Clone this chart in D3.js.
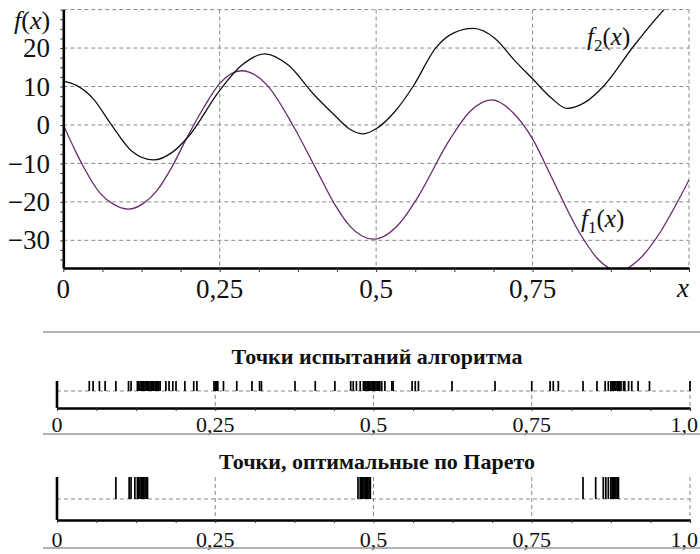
<!DOCTYPE html>
<html>
<head>
<meta charset="utf-8">
<script src="https://cdnjs.cloudflare.com/ajax/libs/d3/7.8.5/d3.min.js"></script>
<style>
  body { margin: 0; background: #fff; }
  svg { display: block; font-family: "Liberation Serif", "DejaVu Serif", serif; }
  svg text { fill: #111; }
</style>
</head>
<body>
<div id="chart"></div>
<script>
// f1(x) - purple curve
const f1X = [0, 0.02, 0.032, 0.059, 0.08, 0.104, 0.128, 0.149, 0.175, 0.197, 0.224, 0.25, 0.285, 0.325, 0.368, 0.405, 0.435, 0.458, 0.496, 0.538, 0.565, 0.618, 0.65, 0.685, 0.72, 0.75, 0.778, 0.826, 0.855, 0.888, 0.92, 0.954, 0.98, 1.0];
const f1Y = [0, -7.0, -10.8, -17.8, -20.6, -21.9, -20.4, -17.2, -10.5, -3.5, 4.4, 10.8, 14.1, 10.5, -0.4, -11.8, -21.0, -26.3, -29.7, -25.5, -19.2, -3.7, 3.5, 6.5, 3.0, -3.6, -12.8, -28.3, -35.0, -38.0, -35.0, -27.9, -20.5, -14.3];

// f2(x) - black curve
const f2X = [0, 0.021, 0.048, 0.075, 0.11, 0.144, 0.175, 0.2, 0.25, 0.285, 0.322, 0.36, 0.4, 0.432, 0.458, 0.48, 0.5, 0.53, 0.559, 0.595, 0.625, 0.655, 0.69, 0.72, 0.75, 0.78, 0.805, 0.835, 0.863, 0.911, 0.962, 1.0];
const f2Y = [11.4, 10.3, 6.8, 0.5, -6.9, -9.1, -7.0, -3.0, 9.0, 15.5, 18.5, 15.5, 8.0, 2.8, -1.1, -2.3, -1.0, 3.5, 10.0, 20.0, 24.0, 25.1, 22.5, 17.0, 12.0, 7.0, 4.3, 6.0, 10.0, 20.4, 30.3, 36.0];

const yTickValues = [20, 10, 0, -10, -20, -30];
const yTickLabels = ["20", "10", "0", "\u221210", "\u221220", "\u221230"];
const xTickValues = [0, 0.25, 0.5, 0.75];
const xTickLabels = ["0", "0,25", "0,5", "0,75"];

const stripTickValues = [0, 0.25, 0.5, 0.75, 1.0];
const stripTickLabels = ["0", "0,25", "0,5", "0,75", "1,0"];

// all trial points of the algorithm
const trialPoints = [0.051, 0.057, 0.067, 0.076, 0.093, 0.113, 0.117,
  0.127, 0.129, 0.131, 0.133, 0.135, 0.137, 0.139, 0.141, 0.143, 0.145, 0.147, 0.149, 0.151, 0.153, 0.155, 0.157, 0.159, 0.161, 0.163,
  0.172, 0.177, 0.183, 0.188, 0.202, 0.216, 0.221,
  0.248, 0.250, 0.252, 0.254, 0.263, 0.284, 0.308, 0.320, 0.323, 0.376, 0.408, 0.439,
  0.464, 0.468, 0.473, 0.479,
  0.484, 0.486, 0.488, 0.490, 0.492, 0.494, 0.496, 0.498, 0.500, 0.502, 0.504, 0.506, 0.508,
  0.510, 0.513, 0.518, 0.529, 0.531, 0.561, 0.566, 0.571, 0.624, 0.692,
  0.750, 0.779, 0.784, 0.792, 0.831, 0.853, 0.866, 0.871, 0.875,
  0.877, 0.879, 0.881, 0.883, 0.885, 0.887, 0.889, 0.891,
  0.895, 0.897, 0.903, 0.908, 0.918, 0.936, 1.0];

// Pareto-optimal points
const paretoPoints = [0.093, 0.114, 0.117, 0.123,
  0.127, 0.129, 0.131, 0.133, 0.135, 0.137, 0.139, 0.141, 0.143,
  0.4755, 0.479, 0.481, 0.483, 0.485, 0.487, 0.489, 0.491, 0.493, 0.495,
  0.831, 0.851, 0.863, 0.867, 0.871, 0.875, 0.877, 0.879, 0.881, 0.883, 0.885, 0.887];

const serif = "'Liberation Serif', 'DejaVu Serif', serif";

let svg = d3.select("#chart").append("svg")
    .attr("width", 700)
    .attr("height", 554)
    .attr("font-family", serif);

svg.append("rect").attr("width", 700).attr("height", 554).attr("fill", "#fff");

//---------- top chart ----------
let x = d3.scaleLinear().domain([0, 1]).range([63.3, 689]);
let y = d3.scaleLinear().domain([-37.2, 30]).range([268, 9.6]);

let grid = svg.append("g").attr("class", "grid");

grid.selectAll(".hgrid")
    .data([30, 20, 10, 0, -10, -20, -30])
    .enter().append("line")
    .attr("x1", x(0)).attr("x2", x(1))
    .attr("y1", function (d) { return y(d); })
    .attr("y2", function (d) { return y(d); })
    .attr("stroke", "#8a8a8a")
    .attr("stroke-dasharray", "4,3");

grid.selectAll(".vgrid")
    .data([0.25, 0.5, 0.75, 1.0])
    .enter().append("line")
    .attr("x1", function (d) { return x(d); })
    .attr("x2", function (d) { return x(d); })
    .attr("y1", y(30)).attr("y2", y(-37.2))
    .attr("stroke", "#8a8a8a")
    .attr("stroke-dasharray", "4,3");

svg.append("clipPath").attr("id", "plot-clip")
    .append("rect")
    .attr("x", x(0)).attr("y", y(30))
    .attr("width", x(1) - x(0)).attr("height", y(-37.2) - y(30));

let line = d3.line()
    .x(function (d) { return x(d[0]); })
    .y(function (d) { return y(d[1]); })
    .curve(d3.curveMonotoneX);

let curves = svg.append("g").attr("clip-path", "url(#plot-clip)");

curves.append("path")
    .datum(f1X.map(function (v, i) { return [v, f1Y[i]]; }))
    .attr("fill", "none")
    .attr("stroke", "#6b2a6b")
    .attr("stroke-width", 1.3)
    .attr("d", line);

curves.append("path")
    .datum(f2X.map(function (v, i) { return [v, f2Y[i]]; }))
    .attr("fill", "none")
    .attr("stroke", "#111")
    .attr("stroke-width", 1.3)
    .attr("d", line);

// axes with small minor ticks
let yAxis = svg.append("g")
    .attr("transform", "translate(" + x(0) + ",0)")
    .call(d3.axisLeft(y).tickValues(d3.range(-35, 30.1, 2.5)).tickSize(3).tickSizeOuter(0).tickFormat(""));

let xAxis = svg.append("g")
    .attr("transform", "translate(0," + y(-37.2) + ")")
    .call(d3.axisBottom(x).tickValues(d3.range(0, 1.0001, 0.0625)).tickSize(4).tickSizeOuter(0).tickFormat(""));

[xAxis, yAxis].forEach(function (a) {
    a.select(".domain").attr("stroke", "#000").attr("stroke-width", 2.6);
    a.selectAll(".tick line").attr("stroke", "#333");
});

svg.selectAll(".ylab")
    .data(yTickValues)
    .enter().append("text")
    .attr("x", 50)
    .attr("y", function (d) { return y(d); })
    .attr("dy", "0.34em")
    .attr("text-anchor", "end")
    .attr("font-family", serif)
    .attr("font-size", 27)
    .text(function (d, i) { return yTickLabels[i]; });

svg.selectAll(".xlab")
    .data(xTickValues)
    .enter().append("text")
    .attr("x", function (d) { return x(d); })
    .attr("y", 298)
    .attr("text-anchor", "middle")
    .attr("font-family", serif)
    .attr("font-size", 27)
    .text(function (d, i) { return xTickLabels[i]; });

// f(x) axis title
let fx = svg.append("text").attr("x", 14).attr("y", 29)
    .attr("font-family", serif).attr("font-size", 26);
fx.append("tspan").attr("font-style", "italic").text("f");
fx.append("tspan").text("(");
fx.append("tspan").attr("font-style", "italic").text("x");
fx.append("tspan").text(")");

svg.append("text")
    .attr("x", 683).attr("y", 297)
    .attr("text-anchor", "middle")
    .attr("font-family", serif)
    .attr("font-size", 27)
    .attr("font-style", "italic")
    .text("x");

function curveLabel(px, py, sub) {
    let t = svg.append("text").attr("x", px).attr("y", py)
        .attr("font-family", serif).attr("font-size", 25);
    t.append("tspan").attr("font-style", "italic").text("f");
    t.append("tspan").attr("dy", 6).attr("font-size", 17).text(sub);
    t.append("tspan").attr("dy", -6).text("(");
    t.append("tspan").attr("font-style", "italic").text("x");
    t.append("tspan").text(")");
}
curveLabel(587, 45, "2");
curveLabel(581, 227, "1");

// separator
svg.append("line")
    .attr("x1", 43).attr("x2", 700)
    .attr("y1", 332).attr("y2", 332)
    .attr("stroke", "#999").attr("stroke-width", 1.5);

//---------- point strips ----------
let xs = d3.scaleLinear().domain([0, 1]).range([57, 690]);

function drawStrip(points, title, titleY, top, dashY, axisY, labelY, ruleY) {
    let g = svg.append("g");

    g.append("text")
        .attr("x", 377).attr("y", titleY)
        .attr("text-anchor", "middle")
        .attr("font-family", serif)
        .attr("font-size", 22)
        .attr("font-weight", "bold")
        .text(title);

    g.selectAll(".vg")
        .data([0.25, 0.5, 0.75, 1.0])
        .enter().append("line")
        .attr("x1", function (d) { return xs(d); })
        .attr("x2", function (d) { return xs(d); })
        .attr("y1", top).attr("y2", axisY)
        .attr("stroke", "#8a8a8a")
        .attr("stroke-dasharray", "4,3");

    g.append("line")
        .attr("x1", xs(0)).attr("x2", xs(1))
        .attr("y1", dashY).attr("y2", dashY)
        .attr("stroke", "#8a8a8a")
        .attr("stroke-dasharray", "4,3");

    g.selectAll(".pt")
        .data(points)
        .enter().append("line")
        .attr("x1", function (d) { return xs(d); })
        .attr("x2", function (d) { return xs(d); })
        .attr("y1", top).attr("y2", dashY)
        .attr("stroke", "#000")
        .attr("stroke-width", 1.7);

    g.append("line")
        .attr("x1", xs(0)).attr("x2", xs(0))
        .attr("y1", top).attr("y2", axisY)
        .attr("stroke", "#000").attr("stroke-width", 2.6);

    let ax = g.append("g")
        .attr("transform", "translate(0," + axisY + ")")
        .call(d3.axisBottom(xs).tickValues(d3.range(0, 1.0001, 0.0625)).tickSize(3).tickSizeOuter(0).tickFormat(""));
    ax.select(".domain").attr("stroke", "#000").attr("stroke-width", 2.6);
    ax.selectAll(".tick line").attr("stroke", "#333");

    g.selectAll(".sl")
        .data(stripTickValues)
        .enter().append("text")
        .attr("x", function (d, i) { return i === stripTickValues.length - 1 ? 698 : xs(d); })
        .attr("y", labelY)
        .attr("text-anchor", function (d, i) { return i === stripTickValues.length - 1 ? "end" : "middle"; })
        .attr("font-family", serif)
        .attr("font-size", 22)
        .text(function (d, i) { return stripTickLabels[i]; });

    g.append("line")
        .attr("x1", 43).attr("x2", 700)
        .attr("y1", ruleY).attr("y2", ruleY)
        .attr("stroke", "#999").attr("stroke-width", 1.5);
}

drawStrip(trialPoints, "Точки испытаний алгоритма", 364, 381, 391, 408, 432, 434);
drawStrip(paretoPoints, "Точки, оптимальные по Парето", 469, 477, 499, 520, 547, 548);
</script>
</body>
</html>
